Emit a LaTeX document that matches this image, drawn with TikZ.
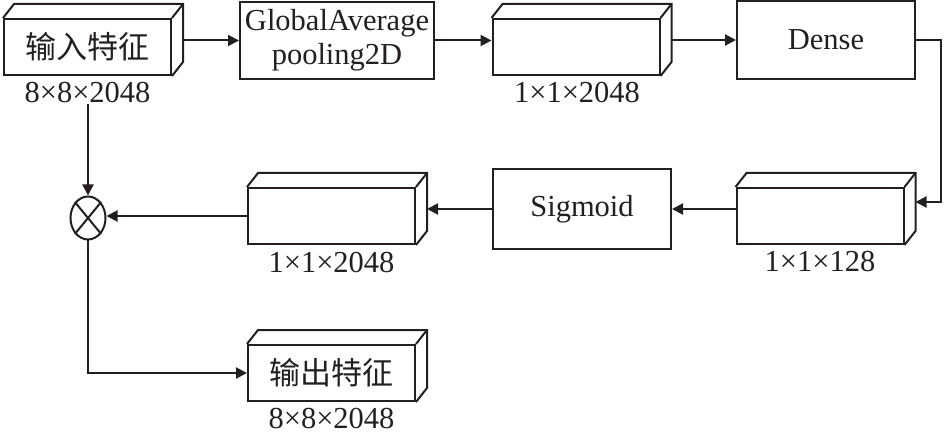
\documentclass[tikz,border=0pt]{standalone}
\usepackage{fontspec}
\setmainfont{Liberation Serif}
\newfontfamily\cjk{Noto Sans CJK SC}
\usetikzlibrary{arrows.meta,shapes.geometric}
\definecolor{ink}{RGB}{35,31,32}
\begin{document}
\begin{tikzpicture}[x=1pt,y=-1pt,
  ln/.style={draw=ink,line width=2pt},
  arr/.style={ln,-{Triangle[length=11pt,width=11pt]}},
  blk/.style={ln,rectangle,inner sep=0pt,text=ink,font=\fontsize{30.5}{34}\selectfont,align=center},
  cub/.style={blk,minimum width=167pt,minimum height=56pt},
  lbl/.style={text=ink,font=\fontsize{30.5}{34}\selectfont,inner sep=1pt},
  cjkt/.style={font=\cjk\fontsize{31}{34}\selectfont}
]
\useasboundingbox (0,0) rectangle (945,438);
% row 1
\node[cub,cjkt] (in) at (87.5,47) {输入特征};
\node[lbl] (inl) at (87.5,93) {8×8×2048};
\node[blk,minimum width=194pt,minimum height=77pt] (gap) at (337,40.5) {GlobalAverage\\pooling2D};
\node[cub] (c1) at (576,47) {};
\node[lbl] (c1l) at (577,93) {1×1×2048};
\node[blk,minimum width=178pt,minimum height=78pt] (dense) at (826,40) {Dense};
% row 2
\node[cub] (c2) at (820,216) {};
\node[lbl] (c2l) at (820,262) {1×1×128};
\node[blk,minimum width=178pt,minimum height=80pt] (sig) at (582,209) {Sigmoid};
\node[cub] (c3) at (331.5,216) {};
\node[lbl] (c3l) at (331.5,263) {1×1×2048};
\node[ln,ellipse,minimum width=35pt,minimum height=43pt,inner sep=0pt] (mult) at (88,218) {};
\draw[ln] (mult.north west) -- (mult.south east) (mult.north east) -- (mult.south west);
% row 3
\node[cub,cjkt] (out) at (331.5,373) {输出特征};
\node[lbl] (outl) at (331.5,419) {8×8×2048};
% cuboid depth faces
\foreach \n in {in,c1,c2,c3,out}{
  \draw[ln,line join=miter] (\n.north west) -- ++(11pt,14pt) -- ([shift={(11pt,14pt)}]\n.north east)
     -- ([shift={(11pt,14pt)}]\n.south east) -- (\n.south east);
  \draw[ln] (\n.north east) -- ++(11pt,14pt);
}
% connectors
\draw[arr] ([xshift=11pt]in.east |- gap.west) -- (gap.west);
\draw[arr] (gap.east) -- (c1.west |- gap.east);
\draw[arr] ([xshift=11pt]c1.east |- dense.west) -- (dense.west);
\coordinate (turn) at (941,40);
\draw[arr] (dense.east) -- (turn) |- ([shift={(11pt,14pt)}]c2.east);
\draw[arr] (c2.west |- sig.east) -- (sig.east);
\draw[arr] (sig.west) -- ([xshift=11pt]c3.east |- sig.west);
\draw[arr] (c3.west) -- (mult.east |- c3.west);
\draw[arr] (inl.south -| mult.north) -- (mult.north);
\draw[arr] (mult.south) |- (out.west);
\end{tikzpicture}
\end{document}
